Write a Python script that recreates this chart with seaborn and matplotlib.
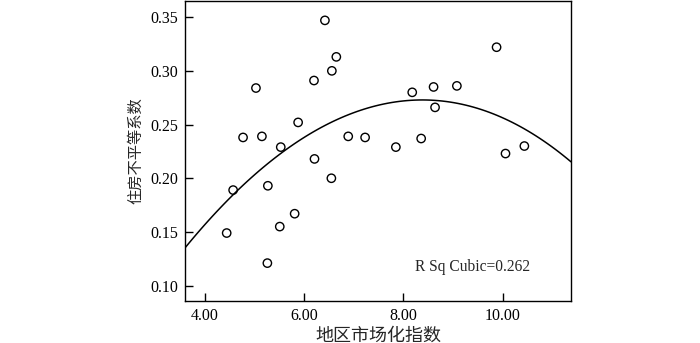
import numpy as np
import pandas as pd
import matplotlib
matplotlib.use('Agg')
import matplotlib.pyplot as plt
import seaborn as sns

# 地区市场化指数 / 住房不平等系数
market_index = [4.44, 4.57, 4.77, 5.03, 5.15, 5.26, 5.27, 5.51, 5.53, 5.81,
                5.88, 6.20, 6.21, 6.42, 6.55, 6.56, 6.65, 6.89, 7.23, 7.85,
                8.18, 8.36, 8.61, 8.64, 9.08, 9.88, 10.06, 10.44]
housing_gini = [0.149, 0.189, 0.238, 0.284, 0.239, 0.121, 0.193, 0.155, 0.229, 0.167,
                0.252, 0.291, 0.218, 0.347, 0.200, 0.300, 0.313, 0.239, 0.238, 0.229,
                0.280, 0.237, 0.285, 0.266, 0.286, 0.322, 0.223, 0.230]
x_ticks = [4.0, 6.0, 8.0, 10.0]
y_ticks = [0.10, 0.15, 0.20, 0.25, 0.30, 0.35]
r2_label = "R Sq Cubic=0.262"

df = pd.DataFrame({"x": market_index, "y": housing_gini})

sns.set_style("ticks")
plt.rcParams['font.family'] = ['Liberation Serif', 'Noto Sans CJK SC']

fig = plt.figure(figsize=(7, 3.43), dpi=100)
ax = fig.add_axes([0.2643, 0.1233, 0.5514, 0.8737])
ax.set_xlim(3.6, 11.38)
ax.set_ylim(0.086, 0.365)

# 三次拟合曲线，延伸到整个坐标范围
sns.regplot(data=df, x="x", y="y", order=3, ci=None, truncate=False,
            scatter=False, color="black", line_kws={"linewidth": 1.1}, ax=ax)
sns.scatterplot(data=df, x="x", y="y", marker="o", s=36, facecolors="none",
                edgecolor="black", linewidth=1.0, ax=ax, zorder=3)

ax.set_xticks(x_ticks)
ax.set_xticklabels([f"{v:.2f}" for v in x_ticks])
ax.set_yticks(y_ticks)
ax.set_yticklabels([f"{v:.2f}" for v in y_ticks])
ax.tick_params(direction="in", length=6, width=1, labelsize=11.5, pad=5,
               colors="black")
for s in ax.spines.values():
    s.set_visible(True)
    s.set_linewidth(1)
    s.set_color("black")

ax.set_xlabel("地区市场化指数", fontsize=13, family=['Noto Sans CJK SC'], labelpad=2)
ax.set_ylabel("住房不平等系数", fontsize=11, family=['Noto Sans CJK SC'], labelpad=4)
ax.text(0.745, 0.112, r2_label, transform=ax.transAxes, ha="center", va="center",
        fontsize=11.2)

fig.savefig("out.png", dpi=100)
